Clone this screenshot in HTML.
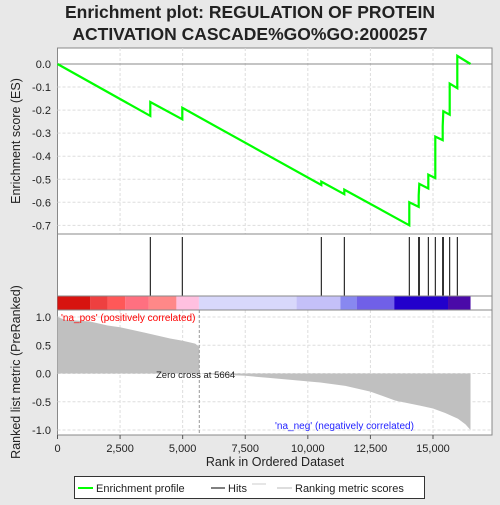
<!DOCTYPE html>
<html><head><meta charset="utf-8"><style>
body{margin:0;background:#e8e8e8;}
svg text{font-family:"Liberation Sans",sans-serif;}
</style></head><body>
<svg id="c" width="500" height="500" xmlns="http://www.w3.org/2000/svg">
<text x="250" y="18" font-size="17.5" font-weight="bold" text-anchor="middle" fill="#222">Enrichment plot: REGULATION OF PROTEIN</text>
<text x="250" y="40" font-size="17.5" font-weight="bold" text-anchor="middle" fill="#222">ACTIVATION CASCADE%GO%GO:2000257</text>
<rect x="57.5" y="48" width="434.5" height="387" fill="#fff" stroke="#888"/>
<g id="grid"></g>
<g id="es"></g>
<g id="hits"></g>
<g id="bar"></g>
<g id="metric"></g>
<g id="axes"></g>
<text x="20" y="141" font-size="12.5" text-anchor="middle" transform="rotate(-90 20 141)" fill="#222">Enrichment score (ES)</text>
<text x="20" y="372" font-size="12.5" text-anchor="middle" transform="rotate(-90 20 372)" fill="#222">Ranked list metric (PreRanked)</text>
<text x="275" y="466" font-size="12.5" text-anchor="middle" fill="#222">Rank in Ordered Dataset</text>
<text x="61" y="321" font-size="10" fill="#f00">'na_pos' (positively correlated)</text>
<text x="275" y="429" font-size="10" fill="#22f">'na_neg' (negatively correlated)</text>
<text x="156" y="378" font-size="9.5" fill="#222">Zero cross at 5664</text>
<g>
<rect x="74.5" y="476.5" width="350" height="22" fill="#fff" stroke="#333"/>
<line x1="78" y1="488" x2="93" y2="488" stroke="#0f0" stroke-width="2"/>
<text x="96" y="492" font-size="11" fill="#222">Enrichment profile</text>
<line x1="211" y1="488" x2="225" y2="488" stroke="#000"/>
<text x="228" y="492" font-size="11" fill="#222">Hits</text>
<line x1="252" y1="484" x2="266" y2="484" stroke="#ccc"/>
<line x1="277" y1="488" x2="292" y2="488" stroke="#bbb"/>
<text x="295" y="492" font-size="11" fill="#222">Ranking metric scores</text>
</g>
</svg>
<script>
const esRanks=[0,3707,3707,4985,4985,10538,10538,11457,11457,14053,14053,14429,14429,14453,14813,14813,15092,15092,15388,15388,15412,15667,15667,15971,15971,16500];
const esValues=[0,-0.225,-0.165,-0.24,-0.19,-0.525,-0.51,-0.565,-0.545,-0.70,-0.60,-0.62,-0.57,-0.52,-0.54,-0.48,-0.495,-0.315,-0.33,-0.27,-0.205,-0.22,-0.085,-0.105,0.035,0];
const hitRanks=[3707,4985,10538,11457,14053,14429,14453,14813,15092,15388,15412,15667,15971];
const metricRanks=[0,300,1300,2000,2500,3000,3500,4000,4500,5000,5500,5664,5665,6000,7500,8500,9500,10500,11500,12500,13500,14500,15000,15500,16000,16300,16500];
const metricValues=[1.0,0.95,0.92,0.85,0.82,0.77,0.72,0.67,0.62,0.58,0.53,0.47,0,-0.01,-0.04,-0.08,-0.12,-0.16,-0.22,-0.32,-0.48,-0.57,-0.62,-0.7,-0.8,-0.9,-1.0];
const barStops=[0,1300,2000,2700,3650,4750,5650,9550,11300,11950,13450,15600,16500];
const barColors=['#d7130f','#ee4040','#ff5858','#ff7080','#ff8888','#ffc0e0','#d8d8fb','#c4c0f8','#8888f0','#7060e8','#2200cc','#4a0aa8'];
const xTicks=[0,2500,5000,7500,10000,12500,15000];
const esTicks=[0,-0.1,-0.2,-0.3,-0.4,-0.5,-0.6,-0.7];
const mTicks=[1,0.5,0,-0.5,-1];
const NS='http://www.w3.org/2000/svg';
const X=r=>57.5+r*0.025033;
const YE=v=>64-v*230.5;
const YM=v=>373.5-v*56.5;
function mk(p,t,a){const e=document.createElementNS(NS,t);for(const k in a)e.setAttribute(k,a[k]);document.getElementById(p).appendChild(e);return e;}
xTicks.forEach(t=>{if(t>0){const g=mk('grid','line',{x1:X(t),x2:X(t),y1:48,y2:234,stroke:'#ddd','stroke-dasharray':'3,2'});


const g2=mk('grid','line',{x1:X(t),x2:X(t),y1:310,y2:435,stroke:'#ddd','stroke-dasharray':'3,2'});

}
const l=mk('axes','line',{x1:X(t),x2:X(t),y1:435,y2:439,stroke:'#555'});


const tx=mk('axes','text',{x:X(t),y:452,'font-size':11,'text-anchor':'middle',fill:'#222'});tx.textContent=t.toLocaleString('en-US');

});
esTicks.forEach(t=>{if(t<0){const g=mk('grid','line',{x1:57.5,x2:492,y1:YE(t),y2:YE(t),stroke:'#ddd','stroke-dasharray':'3,2'});

}
const tx=mk('axes','text',{x:51,y:YE(t)+4,'font-size':11,'text-anchor':'end',fill:'#222'});tx.textContent=t.toFixed(1);

});
mTicks.forEach(t=>{const g=mk('grid','line',{x1:57.5,x2:492,y1:YM(t),y2:YM(t),stroke:'#ddd','stroke-dasharray':'3,2'});


const tx=mk('axes','text',{x:51,y:YM(t)+4,'font-size':11,'text-anchor':'end',fill:'#222'});tx.textContent=t.toFixed(1);

});
const z=mk('grid','line',{x1:57.5,x2:492,y1:YE(0),y2:YE(0),stroke:'#888'});


const sep1=mk('axes','line',{x1:57.5,x2:492,y1:234,y2:234,stroke:'#888'});


const sep2=mk('axes','line',{x1:57.5,x2:492,y1:296,y2:296,stroke:'#888'});


const sep3=mk('axes','line',{x1:57.5,x2:492,y1:310,y2:310,stroke:'#888'});


let d='';esRanks.forEach((r,i)=>{d+=(i?'L':'M')+X(r).toFixed(1)+','+YE(esValues[i]).toFixed(1);});
const p=mk('es','path',{d:d,fill:'none',stroke:'#0f0','stroke-width':2.2});


hitRanks.forEach(r=>{const l=mk('hits','line',{x1:X(r),x2:X(r),y1:237,y2:296,stroke:'#000'});

});
barColors.forEach((c,i)=>{const r=mk('bar','rect',{x:X(barStops[i]),y:296.5,width:X(barStops[i+1])-X(barStops[i]),height:13,fill:c});

});
let m='M'+X(0)+','+YM(0);
metricRanks.forEach((r,i)=>{m+='L'+X(r).toFixed(1)+','+YM(metricValues[i]).toFixed(1);});
m+='L'+X(16500)+','+YM(0)+'Z';
const a=mk('metric','path',{d:m,fill:'#c0c0c0'});


const zc=mk('metric','line',{x1:X(5664),x2:X(5664),y1:310,y2:435,stroke:'#999','stroke-dasharray':'3,2'});


</script>
</body></html>
